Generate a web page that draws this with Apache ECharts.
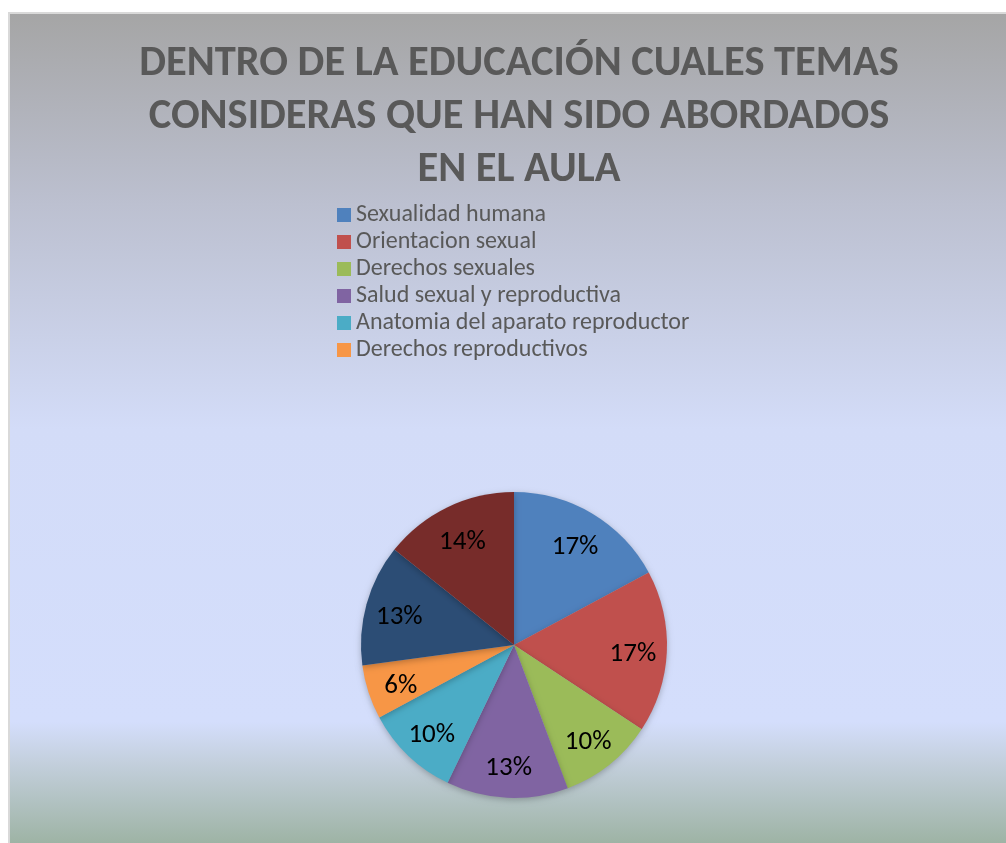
<!DOCTYPE html>
<html>
<head>
<meta charset="utf-8">
<script src="https://cdn.jsdelivr.net/npm/echarts@6/dist/echarts.min.js"></script>
<style>
  html, body { margin: 0; padding: 0; background: #fff; }
  #main { width: 1006px; height: 843px; }
</style>
</head>
<body>
<div id="main"></div>
<script>
// datos del grafico
var titulo = 'DENTRO DE LA EDUCACIÓN CUALES TEMAS\nCONSIDERAS QUE HAN SIDO ABORDADOS\nEN EL AULA'
var temas = [
  'Sexualidad humana',
  'Orientacion sexual',
  'Derechos sexuales',
  'Salud sexual y reproductiva',
  'Anatomia del aparato reproductor',
  'Derechos reproductivos',
  'Otro 7',
  'Otro 8'
]
var respuestas = [12, 12, 7, 9, 7, 4, 9, 10]
var colores = ['#4f81bd', '#c0504d', '#9bbb59', '#8064a2', '#4bacc6', '#f79646', '#2c4d75', '#772c2a']

var datos = temas.map(function (t, i) {
  return { name: t, value: respuestas[i] }
})

var chart = echarts.init(document.getElementById('main'))

var fuente = "Carlito, 'Open Sans', 'Noto Sans', sans-serif"

var opt = {
  color: colores,
  animation: false,
  graphic: [{
    type: 'rect',
    z: -10,
    shape: { x: 9, y: 13, width: 1000, height: 833 },
    style: {
      stroke: '#d9d9d9',
      lineWidth: 2,
      fill: new echarts.graphic.LinearGradient(0, 0, 0, 1, [
        { offset: 0, color: '#a5a5a5' },
        { offset: 0.23, color: '#bcc0d0' },
        { offset: 0.5, color: '#d3dcf8' },
        { offset: 0.85, color: '#d4defc' },
        { offset: 0.9, color: '#c3cfdc' },
        { offset: 1, color: '#9cb2a2' }
      ])
    }
  }],
  title: {
    text: titulo,
    left: 514,
    top: 33,
    textAlign: 'center',
    textStyle: {
      fontFamily: fuente,
      fontSize: 42.5,
      fontWeight: 'bold',
      lineHeight: 53,
      color: '#595959'
    }
  },
  legend: {
    orient: 'vertical',
    left: 332,
    top: 198,
    data: temas.slice(0, 6),
    icon: 'rect',
    itemWidth: 14,
    itemHeight: 14,
    itemGap: 3,
    textStyle: {
      fontFamily: fuente,
      fontSize: 24,
      lineHeight: 24,
      color: '#595959'
    }
  },
  series: [{
    type: 'pie',
    center: [514, 645],
    radius: [0, 153],
    startAngle: 90,
    clockwise: true,
    data: datos,
    label: { show: false },
    labelLine: { show: false },
    itemStyle: {
      shadowBlur: 6,
      shadowColor: 'rgba(0,0,0,0.25)',
      shadowOffsetY: 2
    },
    emphasis: { disabled: true }
  }, {
    // serie solo para ubicar las etiquetas mas afuera
    type: 'pie',
    center: [514, 649],
    radius: [0, 232],
    startAngle: 90,
    clockwise: true,
    silent: true,
    data: datos,
    itemStyle: { color: 'rgba(0,0,0,0)' },
    labelLine: { show: false },
    label: {
      show: true,
      position: 'inside',
      fontFamily: fuente,
      fontSize: 27,
      color: '#000',
      formatter: function (p) {
        return Math.round(p.percent) + '%'
      }
    },
    emphasis: { disabled: true }
  }]
}

chart.setOption(opt)
</script>
</body>
</html>
